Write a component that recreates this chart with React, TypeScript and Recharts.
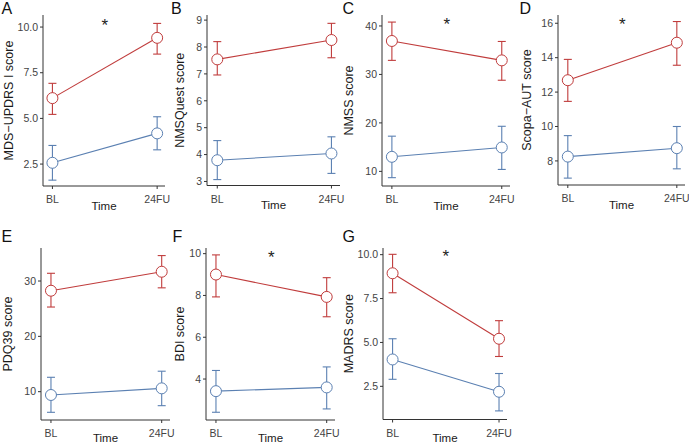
import React from 'react';
import { LineChart, Line, XAxis, YAxis, ErrorBar, ReferenceDot } from 'recharts';

const timeLabels = ['BL', '24FU'];
const panelLetters = ['A', 'B', 'C', 'D', 'E', 'F', 'G'];
const yTitles = [
  'MDS\u2212UPDRS I score',
  'NMSQuest score',
  'NMSS score',
  'Scopa\u2212AUT score',
  'PDQ39 score',
  'BDI score',
  'MADRS score',
];
const redMean = [[6.11, 9.41], [7.54, 8.26], [36.9, 32.9], [12.69, 14.87], [28.25, 31.68], [9.0, 7.93], [8.94, 5.21]];
const redLow = [[5.22, 8.52], [6.96, 7.6], [32.9, 28.8], [11.46, 13.56], [25.3, 28.77], [7.93, 6.98], [7.83, 4.2]];
const redHigh = [[6.92, 10.2], [8.2, 8.88], [40.8, 36.8], [13.9, 16.1], [31.4, 34.6], [9.94, 8.85], [10.02, 6.24]];
const blueMean = [[2.57, 4.18], [3.79, 4.04], [13.0, 14.93], [8.25, 8.74], [9.4, 10.6], [3.42, 3.6], [4.03, 2.19]];
const blueLow = [[1.62, 3.28], [3.07, 3.3], [8.7, 10.4], [7.0, 7.54], [6.27, 7.47], [2.41, 2.57], [2.9, 1.1]];
const blueHigh = [[3.52, 5.09], [4.52, 4.66], [17.26, 19.3], [9.47, 10.0], [12.6, 13.7], [4.41, 4.58], [5.21, 3.23]];
const starValue: (number | null)[] = [10.27, null, 41.0, 16.13, null, 9.98, 10.1];
const yTicks = [[2.5, 5, 7.5, 10], [3, 4, 5, 6, 7, 8, 9], [10, 20, 30, 40], [8, 10, 12, 14, 16], [10, 20, 30], [4, 6, 8, 10], [2.5, 5, 7.5, 10]];
const yDomains = [[1.3, 10.66], [2.85, 9.19], [6.98, 42.26], [6.6, 16.48], [4.88, 35.97], [2.04, 10.27], [0.61, 10.38]];
const yDecimals = [1, 0, 0, 0, 0, 0, 1];

const W = 689;
const H = 443;
const RED = '#c03c3c';
const BLUE = '#5b80b2';
const AXIS = '#333333';
const TICKTXT = '#444444';
const FONT = '"Liberation Sans", Arial, Helvetica, sans-serif';

const layout = [
  { axisX: 43, right: 165, top: 15, bottom: 186, gap: 34.5, xh: 23.5, lx: 1.5, ly: 14 },
  { axisX: 207, right: 340, top: 15, bottom: 185.5, gap: 27, xh: 23.5, lx: 171, ly: 14 },
  { axisX: 382, right: 510, top: 15, bottom: 186, gap: 33, xh: 23.5, lx: 342.5, ly: 14 },
  { axisX: 558, right: 685, top: 15, bottom: 185, gap: 31, xh: 23.5, lx: 519.5, ly: 14 },
  { axisX: 41, right: 170, top: 248, bottom: 420, gap: 33, xh: 22, lx: 1.5, ly: 242 },
  { axisX: 206, right: 335, top: 248, bottom: 420, gap: 26, xh: 22, lx: 172.5, ly: 242 },
  { axisX: 383, right: 507, top: 248, bottom: 419.5, gap: 34, xh: 22, lx: 342.5, ly: 242 },
];

const Star = (props: any) => {
  const { cx, cy } = props;
  if (cx == null || cy == null) return null;
  return (
    <text x={cx} y={cy + 9} textAnchor="middle" fontSize={17} fill="#222" fontFamily={FONT}>
      *
    </text>
  );
};

function Panel({ i }: { i: number }) {
  const L = layout[i];
  const rows = [0, 1].map((k) => ({
    x: k,
    red: redMean[i][k],
    redErr: [redMean[i][k] - redLow[i][k], redHigh[i][k] - redMean[i][k]],
    blue: blueMean[i][k],
    blueErr: [blueMean[i][k] - blueLow[i][k], blueHigh[i][k] - blueMean[i][k]],
  }));
  const margin = {
    top: L.top,
    left: L.axisX - L.gap,
    right: W - L.right,
    bottom: H - L.bottom - L.xh,
  };
  return (
    <div style={{ position: 'absolute', left: 0, top: 0 }}>
      <LineChart width={W} height={H} data={rows} margin={margin} style={{ fontFamily: FONT }}>
        <XAxis
          dataKey="x"
          type="number"
          domain={[-0.09, 1.075]}
          ticks={[0, 1]}
          allowDataOverflow
          tickFormatter={(v: number) => timeLabels[v]}
          height={L.xh}
          tickSize={3}
          tickMargin={7}
          stroke={AXIS}
          tick={{ fill: TICKTXT, fontSize: 10.5 }}
          label={{ value: 'Time', position: 'insideBottom', offset: 0, fill: '#1a1a1a', fontSize: 11.5 }}
        />
        <YAxis
          type="number"
          domain={yDomains[i]}
          ticks={yTicks[i]}
          allowDataOverflow
          width={L.gap}
          tickSize={3}
          tickMargin={2}
          stroke={AXIS}
          tickFormatter={(v: number) => v.toFixed(yDecimals[i])}
          tick={{ fill: TICKTXT, fontSize: 10.5 }}
          label={{
            value: yTitles[i],
            angle: -90,
            position: 'insideLeft',
            offset: 0,
            fill: '#1a1a1a',
            fontSize: 12.5,
            style: { textAnchor: 'middle' },
          }}
        />
        <Line
          dataKey="blue"
          stroke={BLUE}
          strokeWidth={1.1}
          isAnimationActive={false}
          dot={{ r: 5.5, fill: '#ffffff', stroke: BLUE, strokeWidth: 1 }}
        >
          <ErrorBar dataKey="blueErr" direction="y" width={4} stroke={BLUE} strokeWidth={1.1} />
        </Line>
        <Line
          dataKey="red"
          stroke={RED}
          strokeWidth={1.1}
          isAnimationActive={false}
          dot={{ r: 5.5, fill: '#ffffff', stroke: RED, strokeWidth: 1 }}
        >
          <ErrorBar dataKey="redErr" direction="y" width={4} stroke={RED} strokeWidth={1.1} />
        </Line>
        {starValue[i] != null && (
          <ReferenceDot x={0.5} y={starValue[i] as number} r={0} shape={<Star />} ifOverflow="visible" />
        )}
      </LineChart>
    </div>
  );
}

export default function App() {
  return (
    <div style={{ position: 'absolute', left: 0, top: 0, width: W, height: H, background: '#ffffff', fontFamily: FONT }}>
      {panelLetters.map((_, i) => (
        <Panel key={i} i={i} />
      ))}
      <svg width={W} height={H} style={{ position: 'absolute', left: 0, top: 0, pointerEvents: 'none' }}>
        {panelLetters.map((p, i) => (
          <text key={p} x={layout[i].lx} y={layout[i].ly} fontSize={16} fill="#111" fontFamily={FONT}>
            {p}
          </text>
        ))}
      </svg>
    </div>
  );
}
